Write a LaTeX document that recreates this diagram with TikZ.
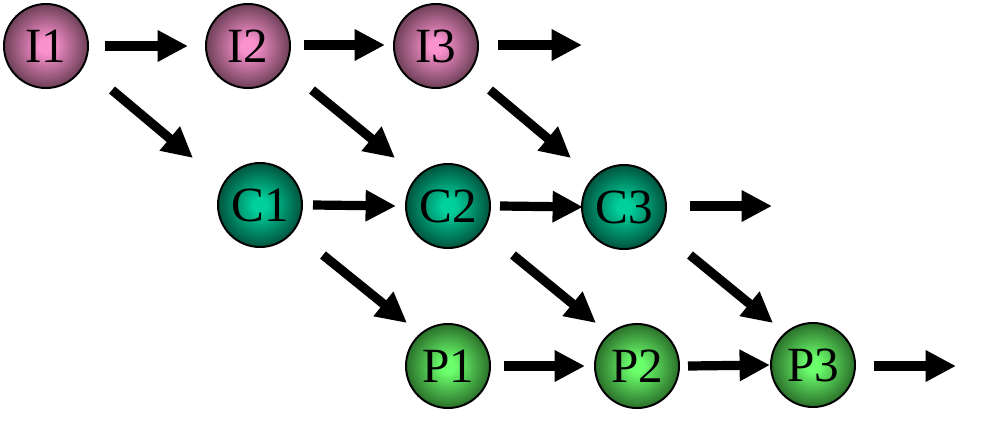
\documentclass[tikz,border=0pt]{standalone}
\usepackage{fontspec}
\setmainfont{Liberation Serif}
\usetikzlibrary{arrows.meta,positioning}
\definecolor{ipink}{HTML}{FA92CE}
\definecolor{ipinkdark}{HTML}{6E4058}
\definecolor{cteal}{HTML}{00D09C}
\definecolor{ctealdark}{HTML}{00543E}
\definecolor{pgreen}{HTML}{6CFF6C}
\definecolor{pgreendark}{HTML}{2A702A}
\pgfdeclareradialshading{ishade}{\pgfpoint{0bp}{0bp}}{color(0bp)=(ipink); color(4bp)=(ipink); color(25bp)=(ipinkdark); color(50bp)=(ipinkdark)}
\pgfdeclareradialshading{cshade}{\pgfpoint{0bp}{0bp}}{color(0bp)=(cteal); color(4bp)=(cteal); color(25bp)=(ctealdark); color(50bp)=(ctealdark)}
\pgfdeclareradialshading{pshade}{\pgfpoint{0bp}{0bp}}{color(0bp)=(pgreen); color(4bp)=(pgreen); color(25bp)=(pgreendark); color(50bp)=(pgreendark)}

\begin{document}
\begin{tikzpicture}[
    x=0.025cm, y=-0.025cm,
    stage/.style={circle, draw=black, line width=1.4pt, minimum size=2.1cm, inner sep=0pt,
        font=\fontsize{35}{37}\selectfont},
    istage/.style={stage, shading=ishade},
    cstage/.style={stage, shading=cshade},
    pstage/.style={stage, shading=pshade},
    arrow/.style={-{Triangle[length=0.76cm 0,width=0.74cm 0]}, line width=0.23cm}
]
\useasboundingbox (0,0) rectangle (983,429);

\node[istage] (I1) at (46,46) {I1};
\node[istage] (I2) at (248,46) {I2};
\node[istage] (I3) at (436,46) {I3};
\node[cstage] (C1) at (260,205) {C1};
\node[cstage] (C2) at (448,206) {C2};
\node[cstage] (C3) at (624,207) {C3};
\node[pstage] (P1) at (448,366) {P1};
\node[pstage] (P2) at (637,366) {P2};
\node[pstage] (P3) at (813,365) {P3};
\coordinate (Inext) at (582,45);
\coordinate (Cnext) at (772,206);
\coordinate (Pnext) at (956,366);

% fetch
\draw[arrow] ([shift={(59,0)}]I1.center) -- ([shift={(-60,0)}]I2.center);
\draw[arrow] ([shift={(56,-1)}]I2.center) -- ([shift={(-51,-1)}]I3.center);
\draw[arrow] ([shift={(62,-1)}]I3.center) -- (Inext);
% compute
\draw[arrow] ([shift={(53,0)}]C1.center) -- ([shift={(-52,0)}]C2.center);
\draw[arrow] ([shift={(52,0)}]C2.center) -- ([shift={(-41,0)}]C3.center);
\draw[arrow] ([shift={(66,-1)}]C3.center) -- (Cnext);
% put
\draw[arrow] ([shift={(56,0)}]P1.center) -- ([shift={(-52,0)}]P2.center);
\draw[arrow] ([shift={(51,0)}]P2.center) -- ([shift={(-43,0)}]P3.center);
\draw[arrow] ([shift={(61,1)}]P3.center) -- (Pnext);

% next stage
\draw[arrow] ([shift={(66,44)}]I1.center) -- ([shift={(-67,-47)}]C1.center);
\draw[arrow] ([shift={(64,44)}]I2.center) -- ([shift={(-53,-48)}]C2.center);
\draw[arrow] ([shift={(54,44)}]I3.center) -- ([shift={(-53,-49)}]C3.center);
\draw[arrow] ([shift={(63,50)}]C1.center) -- ([shift={(-41,-43)}]P1.center);
\draw[arrow] ([shift={(65,49)}]C2.center) -- ([shift={(-41,-43)}]P2.center);
\draw[arrow] ([shift={(66,48)}]C3.center) -- ([shift={(-40,-42)}]P3.center);
\end{tikzpicture}
\end{document}
